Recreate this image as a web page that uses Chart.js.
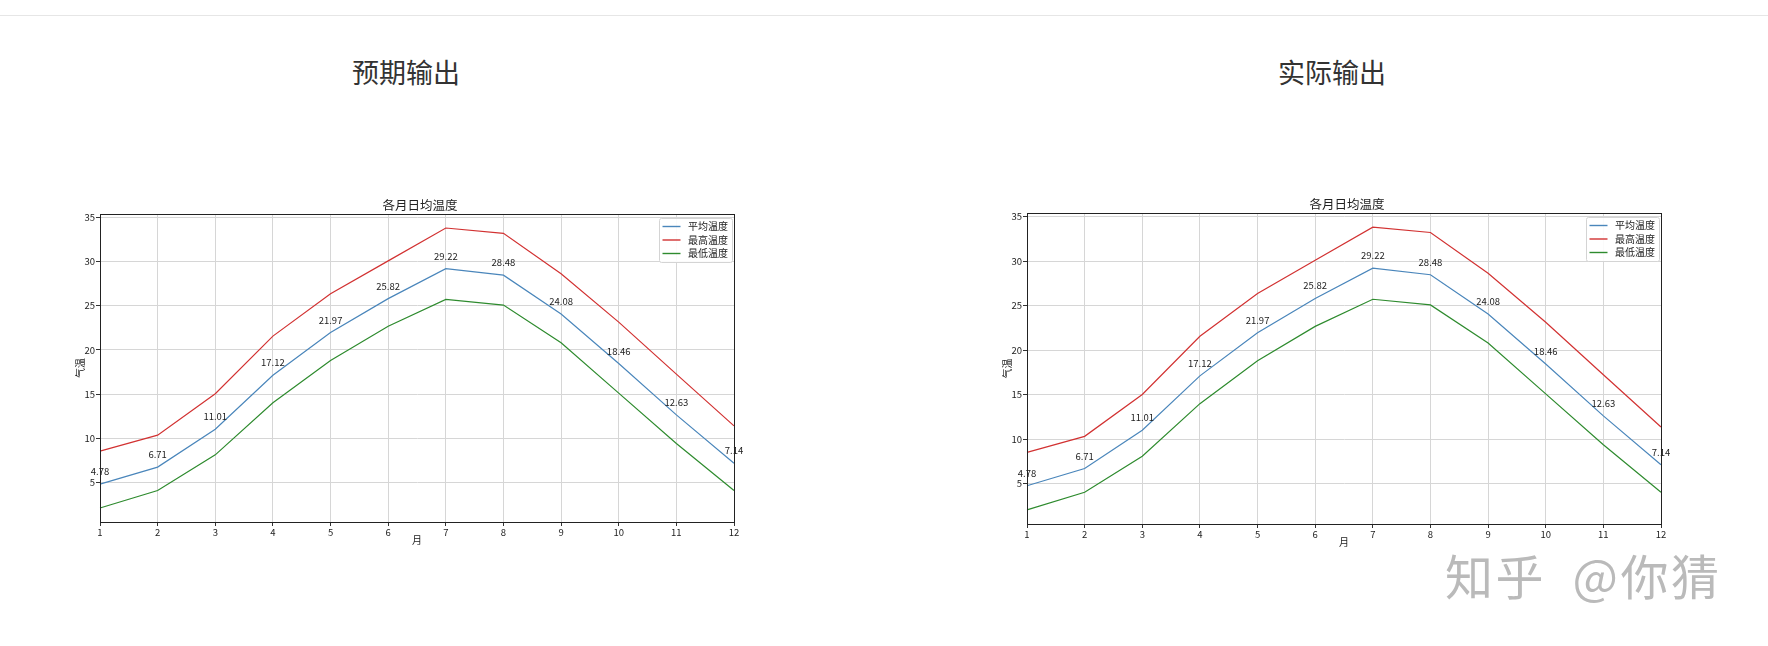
<!DOCTYPE html>
<html>
<head>
<meta charset="utf-8">
<script src="https://cdn.jsdelivr.net/npm/chart.js@4.4.1/dist/chart.umd.min.js"></script>
<style>
  html, body { margin:0; padding:0; background:#fff; width:1768px; height:646px; overflow:hidden;
    font-family:"Noto Sans CJK SC","DejaVu Sans",sans-serif; }
  .rule { position:absolute; left:0; top:15px; width:1768px; height:1px; background:#e6e6e6; }
  .heading { position:absolute; width:300px; text-align:center; font-size:27px; line-height:27px; color:#333; }
  canvas { position:absolute; }
  .wm { position:absolute; left:1445px; top:550px; font-size:48px; line-height:48px; color:#bababa;
    white-space:nowrap; font-weight:400; letter-spacing:2.5px; }
</style>
</head>
<body>
<div class="rule"></div>
<div class="heading" style="left:256px; top:58px;">预期输出</div>
<div class="heading" style="left:1182px; top:58px;">实际输出</div>
<canvas id="c1" width="720" height="360" style="left:40px; top:190px;"></canvas>
<canvas id="c2" width="720" height="362" style="left:967px; top:190px;"></canvas>
<div class="wm">知乎&nbsp;&nbsp;@你猜</div>
<script>
// ---- data ----
const months = ['1','2','3','4','5','6','7','8','9','10','11','12'];
const avgTemp = [4.78, 6.71, 11.01, 17.12, 21.97, 25.82, 29.22, 28.48, 24.08, 18.46, 12.63, 7.14];
const maxTemp = [8.52, 10.33, 15.03, 21.57, 26.38, 30.1, 33.83, 33.23, 28.65, 23.15, 17.25, 11.38];
const minTemp = [2.07, 4.05, 8.1, 14.0, 18.81, 22.68, 25.73, 25.09, 20.82, 15.1, 9.38, 4.05];
const yTicks = [5, 10, 15, 20, 25, 30, 35];
const seriesNames = ['平均温度', '最高温度', '最低温度'];
const chartTitle = '各月日均温度';
const xTitle = '月';
const yTitle = '气温';

const FONT = '"Noto Sans CJK SC","DejaVu Sans",sans-serif';
Chart.defaults.font.family = FONT;
Chart.defaults.color = '#222';

// axis limits like matplotlib auto-margins (5%)
const allVals = avgTemp.concat(maxTemp, minTemp);
const dMin = Math.min(...allVals), dMax = Math.max(...allVals);
const marg = (dMax - dMin) * 0.05;
const yMin = dMin - marg, yMax = dMax + marg;

const spines = {
  id: 'spines',
  afterDatasetsDraw(chart) {
    const {ctx, chartArea: a} = chart;
    ctx.save();
    ctx.strokeStyle = '#222';
    ctx.lineWidth = 1;
    ctx.strokeRect(Math.round(a.left) + 0.5, Math.round(a.top) + 0.5,
      Math.round(a.right - a.left), Math.round(a.bottom - a.top));
    ctx.restore();
  }
};

const areaTitle = {
  id: 'areaTitle',
  afterDraw(chart) {
    const {ctx, chartArea: a} = chart;
    ctx.save();
    ctx.font = '12.5px ' + FONT;
    ctx.fillStyle = '#222';
    ctx.textAlign = 'center';
    ctx.textBaseline = 'middle';
    ctx.fillText(chartTitle, (a.left + a.right) / 2 + 3, a.top - 9);
    ctx.restore();
  }
};

const avgLabels = {
  id: 'avgLabels',
  afterDatasetsDraw(chart) {
    const {ctx} = chart;
    const meta = chart.getDatasetMeta(0);
    const ys = chart.scales.y;
    const vals = chart.data.datasets[0].data;
    ctx.save();
    ctx.font = '9.5px ' + FONT;
    ctx.fillStyle = '#222';
    ctx.textAlign = 'center';
    ctx.textBaseline = 'bottom';
    meta.data.forEach((pt, i) => {
      ctx.fillText(vals[i].toFixed(2), pt.x, ys.getPixelForValue(vals[i] + 1) + 1);
    });
    ctx.restore();
  }
};

const insideLegend = {
  id: 'insideLegend',
  afterDraw(chart) {
    const {ctx, chartArea: a} = chart;
    const ds = chart.data.datasets;
    const x0 = a.right - 75, y0 = a.top + 4, w = 73, h = 44;
    ctx.save();
    ctx.fillStyle = 'rgba(255,255,255,0.9)';
    ctx.strokeStyle = '#d4d4d4';
    ctx.lineWidth = 1;
    ctx.beginPath();
    if (ctx.roundRect) ctx.roundRect(x0 + 0.5, y0 + 0.5, w, h, 2); else ctx.rect(x0 + 0.5, y0 + 0.5, w, h);
    ctx.fill();
    ctx.stroke();
    ctx.font = '10px ' + FONT;
    ctx.textBaseline = 'middle';
    ctx.textAlign = 'left';
    ds.forEach((d, i) => {
      const cy = y0 + 8.5 + i * 13.5;
      ctx.strokeStyle = d.borderColor;
      ctx.lineWidth = 1.4;
      ctx.beginPath();
      ctx.moveTo(x0 + 3.5, cy);
      ctx.lineTo(x0 + 21.5, cy);
      ctx.stroke();
      ctx.fillStyle = '#222';
      ctx.fillText(d.label, x0 + 29, cy);
    });
    ctx.restore();
  }
};

function makeChart(id, padTop) {
  return new Chart(document.getElementById(id), {
    type: 'line',
    data: {
      labels: months,
      datasets: [
        { label: seriesNames[0], data: avgTemp, borderColor: '#4a86bb', borderWidth: 1.2 },
        { label: seriesNames[1], data: maxTemp, borderColor: '#d23232', borderWidth: 1.2 },
        { label: seriesNames[2], data: minTemp, borderColor: '#2e8b2e', borderWidth: 1.2 }
      ]
    },
    options: {
      responsive: false,
      animation: false,
      devicePixelRatio: 1,
      layout: { padding: { top: padTop, right: 26, bottom: 0, left: 0 } },
      elements: { point: { radius: 0 }, line: { tension: 0, fill: false } },
      plugins: {
        legend: { display: false },
        tooltip: { enabled: false },
        title: { display: false }
      },
      scales: {
        x: {
          type: 'category',
          offset: false,
          grid: { color: '#d6d6d6', lineWidth: 1, tickColor: '#333', tickLength: 4, offset: false },
          border: { display: true, color: '#222' },
          ticks: { autoSkip: false, maxRotation: 0, padding: 1, color: '#222', font: { size: 9.5 } },
          title: { display: true, text: xTitle, color: '#222', font: { size: 10, lineHeight: 1.2 },
            padding: { top: 0, bottom: 4 } },
          afterFit(s) { s.height = 28; }
        },
        y: {
          min: yMin, max: yMax,
          grid: { color: '#d6d6d6', lineWidth: 1, tickColor: '#333', tickLength: 4 },
          border: { display: true, color: '#222' },
          afterBuildTicks(s) { s.ticks = yTicks.map(v => ({ value: v })); },
          ticks: { padding: 1, color: '#222', font: { size: 9.5 }, callback: v => String(v) },
          title: { display: true, text: yTitle, color: '#222', font: { size: 10, lineHeight: 1.2 },
            padding: { top: 34, bottom: 0 } },
          afterFit(s) { s.width = 60; }
        }
      }
    },
    plugins: [spines, avgLabels, insideLegend, areaTitle]
  });
}

makeChart('c1', 24);
makeChart('c2', 23);
</script>
</body>
</html>
